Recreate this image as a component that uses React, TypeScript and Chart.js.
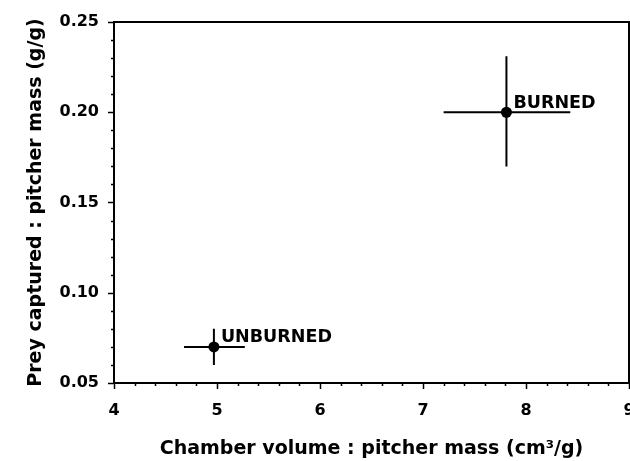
import React, { useEffect, useRef } from 'react';
import { Chart, registerables } from 'chart.js';

Chart.register(...registerables);

// ---- data ----
const groups = ['UNBURNED', 'BURNED'];
const chamberVolume = [4.97, 7.81];
const chamberVolumeLow = [4.68, 7.2];
const chamberVolumeHigh = [5.27, 8.43];
const preyCaptured = [0.07, 0.2];
const preyCapturedLow = [0.06, 0.17];
const preyCapturedHigh = [0.08, 0.231];

// ---- axes ----
const xMin = 4;
const xMax = 9;
const xMajorStep = 1;
const xMinorStep = 0.2;
const yMin = 0.05;
const yMax = 0.25;
const yMajorStep = 0.05;
const yMinorStep = 0.01;

const xTitle = 'Chamber volume : pitcher mass (cm\u00B3/g)';
const yTitle = 'Prey captured : pitcher mass (g/g)';

const FONT = "'DejaVu Sans', 'Liberation Sans', sans-serif";

const overlayPlugin = {
  id: 'overlayPlugin',
  beforeDatasetsDraw(chart: any) {
    const { ctx, chartArea: a, scales } = chart;
    const x = scales.x;
    const y = scales.y;
    ctx.save();
    ctx.strokeStyle = '#000';
    // frame (top and right)
    ctx.lineWidth = 2;
    ctx.beginPath();
    ctx.moveTo(a.left, a.top);
    ctx.lineTo(a.right, a.top);
    ctx.lineTo(a.right, a.bottom);
    ctx.stroke();

    // x ticks (major + minor), outside/below
    ctx.lineWidth = 1.5;
    const nx = Math.round((xMax - xMin) / xMinorStep);
    const xRatio = Math.round(xMajorStep / xMinorStep);
    for (let i = 0; i <= nx; i++) {
      const v = xMin + i * xMinorStep;
      const px = Math.round(x.getPixelForValue(v)) + 0.5;
      const len = i % xRatio === 0 ? 6 : 3;
      ctx.beginPath();
      ctx.moveTo(px, a.bottom);
      ctx.lineTo(px, a.bottom + len);
      ctx.stroke();
    }
    // y ticks, outside/left
    const ny = Math.round((yMax - yMin) / yMinorStep);
    const yRatio = Math.round(yMajorStep / yMinorStep);
    for (let i = 0; i <= ny; i++) {
      const v = yMin + i * yMinorStep;
      const py = Math.round(y.getPixelForValue(v)) + 0.5;
      const len = i % yRatio === 0 ? 6 : 3;
      ctx.beginPath();
      ctx.moveTo(a.left, py);
      ctx.lineTo(a.left - len, py);
      ctx.stroke();
    }

    // error bars
    ctx.lineWidth = 2;
    for (let i = 0; i < groups.length; i++) {
      const cx = x.getPixelForValue(chamberVolume[i]);
      const cy = y.getPixelForValue(preyCaptured[i]);
      ctx.beginPath();
      ctx.moveTo(x.getPixelForValue(chamberVolumeLow[i]), cy);
      ctx.lineTo(x.getPixelForValue(chamberVolumeHigh[i]), cy);
      ctx.moveTo(cx, y.getPixelForValue(preyCapturedLow[i]));
      ctx.lineTo(cx, y.getPixelForValue(preyCapturedHigh[i]));
      ctx.stroke();
    }
    ctx.restore();
  },
  afterDatasetsDraw(chart: any) {
    const { ctx, scales } = chart;
    const x = scales.x;
    const y = scales.y;
    ctx.save();
    ctx.fillStyle = '#000';
    ctx.font = `bold 17.5px ${FONT}`;
    ctx.textAlign = 'left';
    ctx.textBaseline = 'alphabetic';
    for (let i = 0; i < groups.length; i++) {
      const cx = x.getPixelForValue(chamberVolume[i]);
      const cy = y.getPixelForValue(preyCaptured[i]);
      ctx.fillText(groups[i], cx + 7, cy - 4.5);
    }
    ctx.restore();
  },
};

export default function App() {
  const canvasRef = useRef<HTMLCanvasElement | null>(null);

  useEffect(() => {
    const canvas = canvasRef.current;
    if (!canvas) return;
    const chart = new Chart(canvas, {
      type: 'scatter',
      data: {
        datasets: [
          {
            label: 'Pitchers',
            data: chamberVolume.map((v, i) => ({ x: v, y: preyCaptured[i] })),
            backgroundColor: '#000',
            borderColor: '#000',
            pointRadius: 5.5,
            pointHoverRadius: 5.5,
            borderWidth: 0,
          },
        ],
      },
      options: {
        responsive: false,
        animation: false,
        devicePixelRatio: 1,
        layout: { padding: { top: 22, right: 31, left: 0, bottom: 0 } },
        plugins: {
          legend: { display: false },
          tooltip: { enabled: false },
        },
        scales: {
          x: {
            type: 'linear',
            min: xMin,
            max: xMax,
            grid: { display: false, drawTicks: false },
            border: { display: true, color: '#000', width: 2 },
            ticks: {
              stepSize: xMajorStep,
              color: '#000',
              padding: 18.5,
              font: { family: FONT, size: 16, weight: 'bold' },
            },
            title: {
              display: true,
              text: xTitle,
              color: '#000',
              font: { family: FONT, size: 19, weight: 'bold', lineHeight: 1.2 },
              padding: { top: 0, bottom: 1 },
            },
            afterFit(scale: any) {
              scale.height = 78;
              scale.paddingLeft = 0;
              scale.paddingRight = 0;
            },
          },
          y: {
            type: 'linear',
            min: yMin,
            max: yMax,
            grid: { display: false, drawTicks: false },
            border: { display: true, color: '#000', width: 2 },
            ticks: {
              stepSize: yMajorStep,
              color: '#000',
              padding: 15,
              font: { family: FONT, size: 16, weight: 'bold' },
              callback: (v: any) => Number(v).toFixed(2),
            },
            title: {
              display: true,
              text: yTitle,
              color: '#000',
              font: { family: FONT, size: 19, weight: 'bold', lineHeight: 1.2 },
              padding: { top: 24.6, bottom: 0 },
            },
            afterFit(scale: any) {
              scale.width = 114;
              scale.paddingTop = 0;
              scale.paddingBottom = 0;
            },
          },
        },
      },
      plugins: [overlayPlugin],
    });
    return () => chart.destroy();
  }, []);

  return (
    <div
      style={{
        position: 'fixed',
        left: 0,
        top: 0,
        width: 630,
        height: 461,
        overflow: 'hidden',
        background: '#fff',
      }}
    >
      <canvas ref={canvasRef} width={660} height={461} style={{ display: 'block' }} />
    </div>
  );
}
